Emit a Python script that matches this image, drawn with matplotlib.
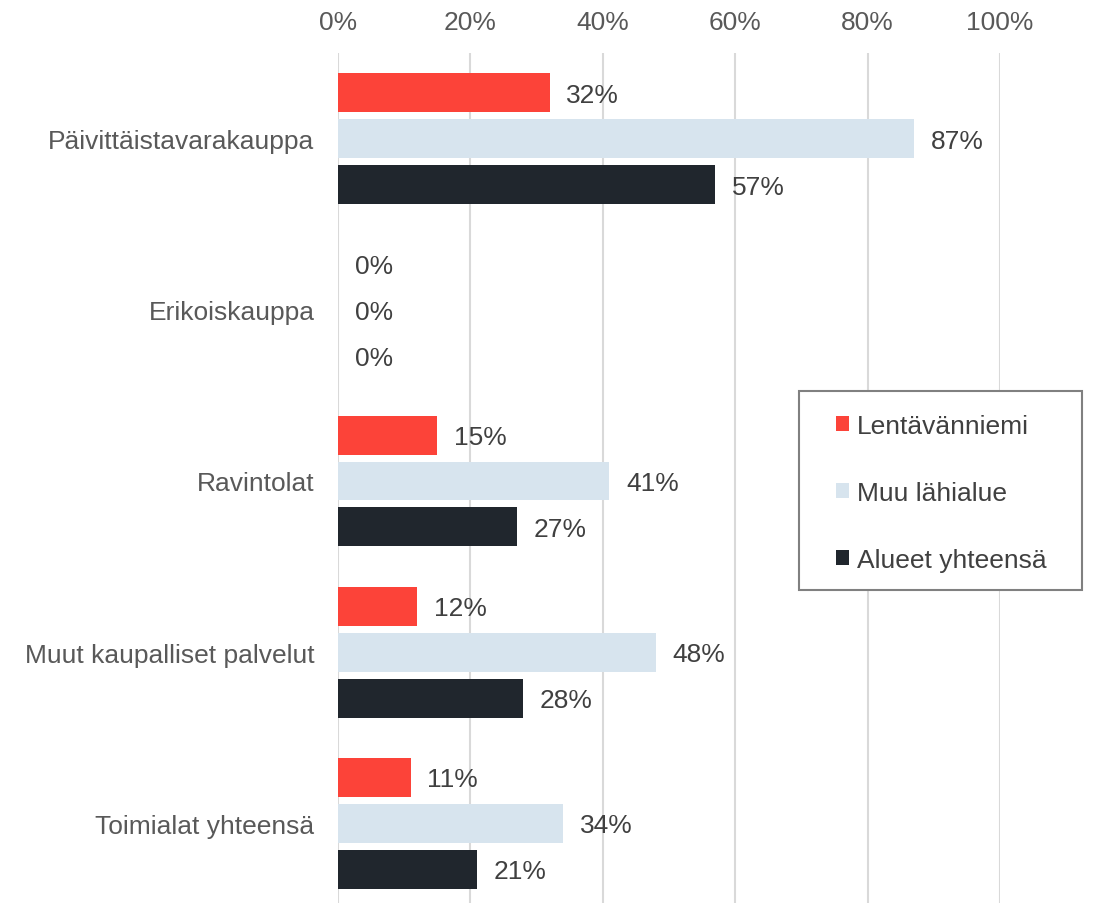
import numpy as np
import matplotlib.pyplot as plt
from matplotlib.patches import Rectangle
from matplotlib.ticker import FuncFormatter

plt.rcParams['font.family'] = ['Liberation Sans', 'DejaVu Sans']

categories = ['Päivittäistavarakauppa', 'Erikoiskauppa', 'Ravintolat',
              'Muut kaupalliset palvelut', 'Toimialat yhteensä']
series_names = ['Lentävänniemi', 'Muu lähialue', 'Alueet yhteensä']
lentavanniemi = [0.32, 0.0, 0.15, 0.12, 0.11]
muu_lahialue = [0.87, 0.0, 0.41, 0.48, 0.34]
alueet_yhteensa = [0.57, 0.0, 0.27, 0.28, 0.21]
colors = ['#FC4339', '#D7E4EE', '#20262D']

tick_col = '#595959'
val_col = '#404040'
fs = 19

fig = plt.figure(figsize=(10.99, 9.04), dpi=100)
ax = fig.add_axes([338 / 1099, -6 / 904, (1000 - 338) / 1099, 856 / 904])

pitch = 0.2686
height = 0.2277
y = np.arange(len(categories))
for i, (vals, name, c) in enumerate(zip([lentavanniemi, muu_lahialue, alueet_yhteensa],
                                        series_names, colors)):
    pos = y + (i - 1) * pitch
    ax.barh(pos, vals, height=height, color=c, label=name, zorder=3)
    for p, v in zip(pos, vals):
        ax.text(v + 0.025, p + 0.012, f'{v * 100:.0f}%', va='center', ha='left',
                fontsize=fs, color=val_col)

ax.set_xlim(0, 1)
ax.set_ylim(4.5, -0.5)
ax.set_xticks(np.arange(0, 1.01, 0.2))
ax.xaxis.set_major_formatter(FuncFormatter(lambda v, _: f'{v * 100:.0f}%'))
ax.xaxis.tick_top()
ax.set_yticks(y)
ax.set_yticklabels(categories)
ax.tick_params(axis='both', length=0, labelsize=fs, colors=tick_col)
ax.tick_params(axis='y', pad=17)
ax.tick_params(axis='x', pad=14)
ax.grid(axis='x', color='#D9D9D9', linewidth=1.5, zorder=0)
for s in ax.spines.values():
    s.set_visible(False)

# legend frame drawn separately
fig.patches.append(Rectangle((799 / 1099, 1 - 591 / 904), 283 / 1099, 199 / 904,
                             transform=fig.transFigure, fill=True, facecolor='white',
                             edgecolor='#808080', linewidth=1.5, zorder=5))
leg = fig.legend(loc='upper left', bbox_to_anchor=(828 / 1099, 1 - 407 / 904),
                 fontsize=fs, frameon=False,
                 handlelength=0.5, handleheight=0.5, handletextpad=0.3,
                 labelspacing=1.63, borderpad=0.3, borderaxespad=0)
leg.set_zorder(6)
for t in leg.get_texts():
    t.set_color(val_col)

fig.savefig('out.png', dpi=100)
